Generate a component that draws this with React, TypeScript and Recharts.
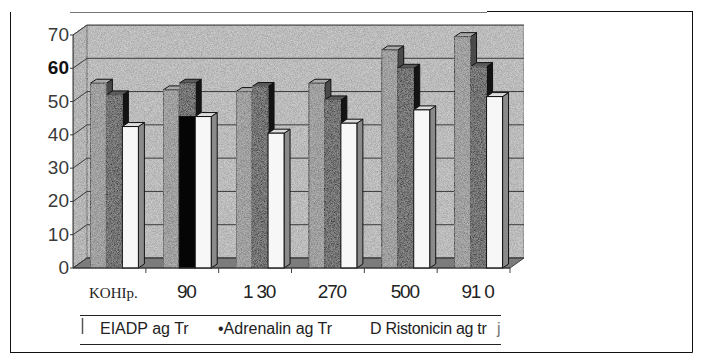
import React from 'react';
import { BarChart, Bar, XAxis, YAxis, CartesianGrid } from 'recharts';

const doses = ['KOHIp.', '90', '1 30', '270', '500', '91 0'];
const adpValues = [55.5, 53.5, 53, 55.5, 65.5, 69.5];
const adrenalinValues = [52, 55.5, 54.5, 50.5, 60, 60.5];
const ristocetinValues = [42.5, 45.5, 40.5, 43.5, 47.5, 51.5];
// the Adrenalin bar at 90 is printed black up to this level
const adrenalinBlackPart = [0, 45.5, 0, 0, 0, 0];
const yTicks = [0, 10, 20, 30, 40, 50, 60, 70];
const legendLabels = ['EIADP ag Tr', '•Adrenalin ag Tr', 'D Ristonicin ag tr'];

const data = doses.map((name, i) => ({
  name,
  adp: adpValues[i],
  adrenalin: adrenalinValues[i],
  ristocetin: ristocetinValues[i],
  black: adrenalinBlackPart[i],
}));

const W = 707;
const H = 363;
const PLOT = { left: 73, top: 35, right: 510, bottom: 268 };
const DEPTH = { dx: 14, dy: -10 };
const BAR_DEPTH = { dx: 6, dy: -4 };
const BAR_SHIFT = 5;
const SANS = '"Liberation Sans", Arial, sans-serif';

const Box3D = (props: any) => {
  const { x, y, width, height, face, side, cap, payload, value, blackKey, grain } = props;
  if (!height || height <= 0) return null;
  const x0 = x + BAR_SHIFT;
  const { dx, dy } = BAR_DEPTH;
  const v = Array.isArray(value) ? value[1] - value[0] : value;
  const blackH = blackKey && payload && payload[blackKey] ? (height * payload[blackKey]) / v : 0;
  return (
    <g stroke="#111" strokeWidth={1}>
      <polygon
        points={`${x0 + width},${y} ${x0 + width + dx},${y + dy} ${x0 + width + dx},${y + height + dy} ${x0 + width},${y + height}`}
        fill={side}
      />
      <polygon
        points={`${x0},${y} ${x0 + dx},${y + dy} ${x0 + width + dx},${y + dy} ${x0 + width},${y}`}
        fill={cap}
      />
      <rect
        x={x0}
        y={y}
        width={width}
        height={height}
        fill={face}
        filter={grain ? 'url(#grain)' : undefined}
      />
      {blackH > 0 && (
        <rect x={x0} y={y + height - blackH} width={width} height={blackH} fill="#050505" />
      )}
    </g>
  );
};

// back-wall gridline: diagonal on the side wall, then across the back wall
const WallLine = (props: any) => {
  const { x1, y1, x2 } = props;
  return (
    <polyline
      points={`${x1 - 3},${y1} ${x1},${y1} ${x1 + DEPTH.dx},${y1 + DEPTH.dy} ${x2 + DEPTH.dx},${y1 + DEPTH.dy}`}
      fill="none"
      stroke="#3a3a3a"
      strokeWidth={1}
    />
  );
};

const XTick = (props: any) => {
  const { x, y, payload } = props;
  const half = payload.offset || 36.4;
  const first = payload.value === doses[0];
  return (
    <g>
      <line x1={x + half} y1={y} x2={x + half} y2={y + 5} stroke="#444" />
      <text
        x={x + 4}
        y={y + 30}
        textAnchor="middle"
        fill="#222"
        fontFamily={first ? '"Liberation Serif", "Times New Roman", serif' : SANS}
        fontSize={first ? 15 : 19}
        letterSpacing={first ? 0 : -1.2}
      >
        {payload.value}
      </text>
    </g>
  );
};

const YTick = (props: any) => {
  const { x, y, payload } = props;
  return (
    <text
      x={x}
      y={y}
      dy={6}
      textAnchor="end"
      fill={payload.value === 60 ? '#111' : '#3a3a3a'}
      fontWeight={payload.value === 60 ? 'bold' : 'normal'}
      fontFamily={SANS}
      fontSize={19}
    >
      {payload.value}
    </text>
  );
};

const Background = () => {
  const { left, top, right, bottom } = PLOT;
  const { dx, dy } = DEPTH;
  return (
    <svg width={W} height={H} style={{ position: 'absolute', left: 0, top: 0 }}>
      <defs>
        <filter id="grain" x="0" y="0" width="100%" height="100%">
          <feTurbulence type="fractalNoise" baseFrequency="1.3" numOctaves="1" seed="5" result="noise" />
          <feColorMatrix
            in="noise"
            type="matrix"
            values="1.6 0 0 0 -0.3  1.6 0 0 0 -0.3  1.6 0 0 0 -0.3  0 0 0 0 0.3"
            result="dots"
          />
          <feComposite in="dots" in2="SourceGraphic" operator="in" result="clipped" />
          <feMerge>
            <feMergeNode in="SourceGraphic" />
            <feMergeNode in="clipped" />
          </feMerge>
        </filter>
      </defs>

      {/* frame */}
      <line x1={10.5} y1={12} x2={10.5} y2={352.5} stroke="#111" />
      <line x1={10} y1={352.5} x2={692.5} y2={352.5} stroke="#111" />
      <line x1={692.5} y1={11} x2={692.5} y2={352.5} stroke="#111" />
      <line x1={70} y1={12.5} x2={487} y2={12.5} stroke="#777" />
      <line x1={487} y1={11.5} x2={692.5} y2={11.5} stroke="#111" />

      {/* walls and floor */}
      <rect
        x={left + dx}
        y={top + dy}
        width={right - left}
        height={bottom - top}
        fill="#bbbbbb"
        stroke="#555"
        filter="url(#grain)"
      />
      <polygon
        points={`${left},${top} ${left + dx},${top + dy} ${left + dx},${bottom + dy} ${left},${bottom}`}
        fill="#b2b2b2"
        stroke="#555"
        filter="url(#grain)"
      />
      <polygon
        points={`${left},${bottom} ${left + dx},${bottom + dy} ${right + dx},${bottom + dy} ${right},${bottom}`}
        fill="#7c7c7c"
        stroke="#444"
      />

      {/* legend */}
      <line x1={80} y1={315.5} x2={501} y2={315.5} stroke="#222" />
      <line x1={80} y1={344.5} x2={501} y2={344.5} stroke="#222" />
      <line x1={82.5} y1={318} x2={82.5} y2={334} stroke="#555" strokeWidth={1.5} />
      <g fontFamily={SANS} fontSize={16} fill="#222">
        <text x={100} y={334}>{legendLabels[0]}</text>
        <text x={218} y={334}>{legendLabels[1]}</text>
        <text x={370} y={334} letterSpacing={-0.3}>{legendLabels[2]}</text>
        <text x={497} y={334} fill="#777">j</text>
      </g>
    </svg>
  );
};

export default function App() {
  return (
    <div style={{ position: 'absolute', left: 0, top: 0, width: W, height: H, background: '#fff' }}>
      <Background />
      <div style={{ position: 'absolute', left: 0, top: 0 }}>
        <BarChart
          width={W}
          height={H}
          data={data}
          margin={{ top: PLOT.top, right: W - PLOT.right, bottom: H - PLOT.bottom - 30, left: PLOT.left - 60 }}
          barGap={0}
          barCategoryGap="17%"
        >
          <CartesianGrid vertical={false} horizontal={(p: any) => <WallLine key={p.key} {...p} />} />
          <XAxis
            dataKey="name"
            height={30}
            axisLine={{ stroke: '#333' }}
            tickLine={false}
            tickSize={0}
            tickMargin={0}
            interval={0}
            tick={<XTick />}
          />
          <YAxis
            domain={[0, 70]}
            ticks={yTicks}
            width={60}
            axisLine={{ stroke: '#333' }}
            tickLine={false}
            tickSize={0}
            tickMargin={4}
            tick={<YTick />}
          />
          <Bar
            dataKey="adp"
            isAnimationActive={false}
            shape={(p: any) => <Box3D {...p} face="#929292" side="#4a4a4a" cap="#a8a8a8" grain />}
          />
          <Bar
            dataKey="adrenalin"
            isAnimationActive={false}
            shape={(p: any) => (
              <Box3D {...p} face="#3a3a3a" side="#141414" cap="#5a5a5a" blackKey="black" grain />
            )}
          />
          <Bar
            dataKey="ristocetin"
            isAnimationActive={false}
            shape={(p: any) => <Box3D {...p} face="#f7f7f7" side="#8a8a8a" cap="#dcdcdc" />}
          />
        </BarChart>
      </div>
    </div>
  );
}
